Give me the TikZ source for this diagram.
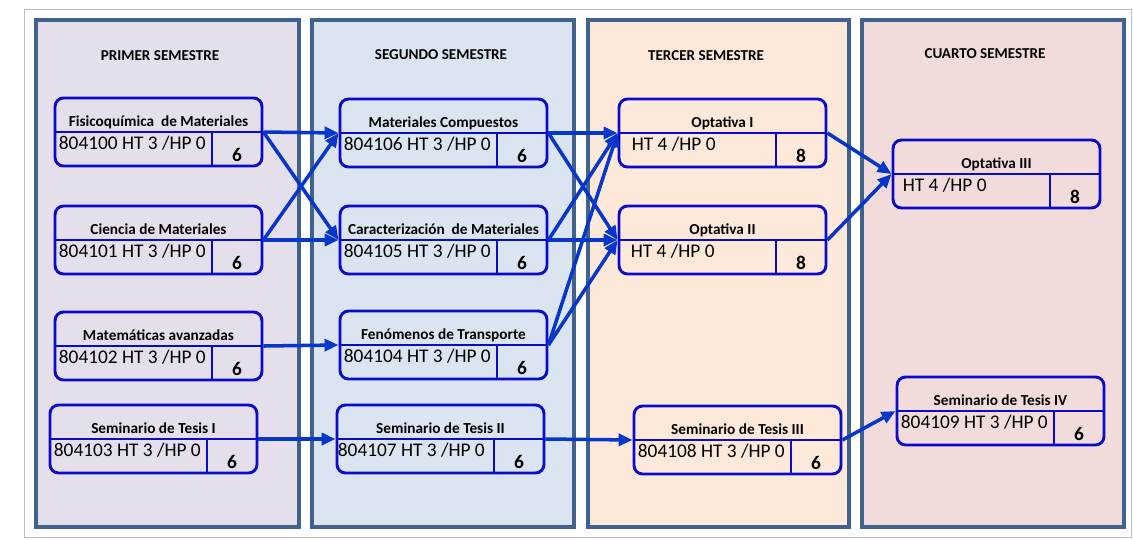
\documentclass[tikz,border=0pt]{standalone}
\usepackage{fontspec}
\setmainfont{Carlito}
\usetikzlibrary{arrows.meta}

\definecolor{lila}{HTML}{E5DFEC}
\definecolor{celeste}{HTML}{DBE5F1}
\definecolor{durazno}{HTML}{FDE9D9}
\definecolor{rosado}{HTML}{F2DCDB}
\definecolor{marco}{HTML}{41628C}
\definecolor{azul}{HTML}{0A0ACC}
\definecolor{flechazul}{HTML}{0636CC}

\tikzset{
  panel/.style={draw=marco, line width=1.8pt},
  caja/.style={draw=azul, line width=1.65pt, rounded corners=0.17cm,
    minimum width=4.14cm, minimum height=1.36cm, inner sep=0pt},
  linea/.style={draw=azul, line width=1.1pt},
  cabecera/.style={font=\fontsize{8.6}{10}\selectfont\bfseries, anchor=base, inner sep=0pt},
  titulo/.style={font=\fontsize{8.7}{10}\selectfont\bfseries, anchor=base, inner sep=0pt},
  codigo/.style={font=\fontsize{11}{13}\selectfont, anchor=base west, inner sep=0pt},
  creditos/.style={font=\fontsize{11}{13}\selectfont\bfseries, anchor=base, inner sep=0pt},
  flecha/.style={-{Triangle[length=0.28cm,width=0.24cm]}, line width=2pt, draw=flechazul},
}

% [sangria]{nombre}{x izq}{y sup}{titulo}{clave}{creditos}
\newcommand{\materia}[7][5]{%
  \node[caja] (#2) at (#3+103.5,#4+34) {};
  \draw[linea] (#2.west) -- (#2.east);
  \draw[linea] ([xshift=1.07cm]#2.center) -- ([xshift=1.07cm]#2.south);
  \node[titulo] (#2-t) at ([yshift=0.12cm]#2.center) {#5};
  \node[codigo] (#2-c) at ([xshift=#1*0.02cm,yshift=-0.34cm]#2.west) {#6};
  \node[creditos] (#2-n) at ([xshift=1.57cm,yshift=-0.58cm]#2.center) {#7};
}

\begin{document}
\begin{tikzpicture}[x=0.02cm,y=-0.02cm]
\useasboundingbox (0,0) rectangle (1134,539);
\draw[black!25, line width=0.5pt] (24,9) rectangle (1131,537);

% semestres
\draw[panel, fill=lila] (36,20) rectangle (299,527);
\draw[panel, fill=celeste] (312,20) rectangle (574,527);
\draw[panel, fill=durazno] (588,20) rectangle (849,527);
\draw[panel, fill=rosado] (862,20) rectangle (1124,527);

\node[cabecera] (h1) at (160,60) {PRIMER SEMESTRE};
\node[cabecera] (h2) at (441,59) {SEGUNDO SEMESTRE};
\node[cabecera] (h3) at (706,60) {TERCER SEMESTRE};
\node[cabecera] (h4) at (985,58) {CUARTO SEMESTRE};

% materias
\materia{fis}{55}{98}{Fisicoquímica\ \ de Materiales}{804100 HT 3 /HP 0}{6}
\materia{cie}{55}{206}{Ciencia de Materiales}{804101 HT 3 /HP 0}{6}
\materia{mat}{55}{312}{Matemáticas avanzadas}{804102 HT 3 /HP 0}{6}
\materia{st1}{50}{405}{Seminario de Tesis I}{804103 HT 3 /HP 0}{6}

\materia{mc}{340}{99}{Materiales Compuestos}{804106 HT 3 /HP 0}{6}
\materia{car}{340}{206}{Caracterización\ \ de Materiales}{804105 HT 3 /HP 0}{6}
\materia{fen}{340}{311}{Fenómenos de Transporte}{804104 HT 3 /HP 0}{6}
\materia[2]{st2}{337}{405}{Seminario de Tesis II}{804107 HT 3 /HP 0}{6}

\materia[14]{op1}{619}{99}{Optativa I}{HT 4 /HP 0}{8}
\materia[13]{op2}{619}{206}{Optativa II}{HT 4 /HP 0}{8}
\materia{st3}{634}{406}{Seminario de Tesis III}{804108 HT 3 /HP 0}{6}

\materia[11]{op3}{893}{140}{Optativa III}{HT 4 /HP 0}{8}
\materia{st4}{897}{377}{Seminario de Tesis IV}{804109 HT 3 /HP 0}{6}

% seriacion
\draw[flecha] (fis.east) -- (mc.west);
\draw[flecha] (fis.east) -- (car.west);
\draw[flecha] (cie.east) -- (mc.west);
\draw[flecha] (cie.east) -- (car.west);
\draw[flecha] (mat.east) -- (fen.west);
\draw[flecha] (st1.east) -- (st2.west);

\draw[flecha] (mc.east) -- (op1.west);
\draw[flecha] (mc.east) -- (op2.west);
\draw[flecha] (car.east) -- (op1.west);
\draw[flecha] (car.east) -- (op2.west);
\draw[flecha] (fen.east) -- (op1.west);
\draw[flecha] (fen.east) -- (op2.west);
\draw[flecha] (st2.east) -- (st3.west);

\draw[flecha] (op1.east) -- (op3.west);
\draw[flecha] (op2.east) -- (op3.west);
\draw[flecha] (st3.east) -- (st4.west);

\end{tikzpicture}
\end{document}
